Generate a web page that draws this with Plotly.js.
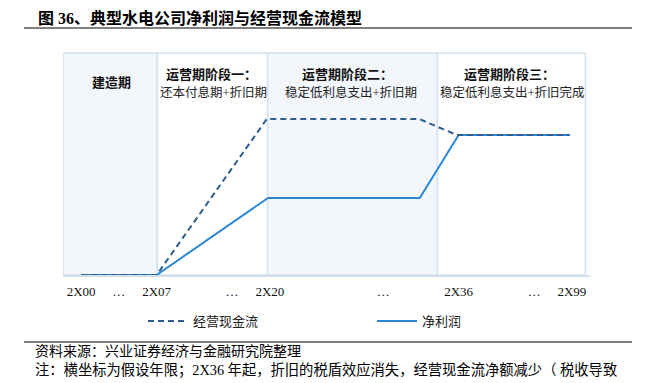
<!DOCTYPE html>
<html>
<head>
<meta charset="utf-8">
<script src="https://cdn.plot.ly/plotly-3.0.1.min.js"></script>
<style>html,body{margin:0;padding:0;background:#fff;}#chart{width:650px;height:383px;}</style>
</head>
<body>
<div id="chart"></div>
<script>
// ---- data ----
var tickPositions = [0, 1, 2, 4, 5, 8, 10, 12, 13];
var tickLabels = ["2X00", "…", "2X07", "…", "2X20", "…", "2X36", "…", "2X99"];
var cashFlowX = [0, 2, 4.92, 8.95, 9.95, 12.94];
var cashFlowY = [0, 0, 70.3, 70.3, 63.1, 63.1];
var netProfitX = [0, 2, 4.95, 8.97, 10, 12.94];
var netProfitY = [0, 0, 34.7, 34.7, 63.1, 63.1];
var seriesNames = ["经营现金流", "净利润"];
var phaseBounds = [-0.48, 2.02, 4.94, 9.44, 13.36];
var phaseTitles = ["建造期", "运营期阶段一：", "运营期阶段二：", "运营期阶段三："];
var phaseSubtitles = ["", "还本付息期+折旧期", "稳定低利息支出+折旧期", "稳定低利息支出+折旧完成"];
var chartTitle = "图 36、典型水电公司净利润与经营现金流模型";
var sourceText = "资料来源：兴业证券经济与金融研究院整理";
var noteText = "注：横坐标为假设年限；2X36 年起，折旧的税盾效应消失，经营现金流净额减少（ 税收导致";

// ---- layout helpers ----
var L = 63, R = 590, T = 53, B = 275;
function px(x) { return (x - L) / (R - L); }
function py(y) { return (B - y) / (B - T); }
var FONT = "Liberation Serif, 'Noto Sans CJK SC', serif";

var traces = [
  {x: netProfitX, y: netProfitY, name: seriesNames[1], type: "scatter", mode: "lines",
   line: {color: "#2B87D3", width: 2}, legendrank: 2, cliponaxis: false},
  {x: cashFlowX, y: cashFlowY, name: seriesNames[0], type: "scatter", mode: "lines",
   line: {color: "#2F5E8E", width: 2, dash: "6px,4px"}, legendrank: 1, cliponaxis: false}
];

var shapes = [];
var fills = ["#F3F7FC", "#FFFFFF", "#F3F7FC", "#FFFFFF"];
for (var i = 0; i < 4; i++) {
  shapes.push({type: "rect", xref: "x", yref: "paper", x0: phaseBounds[i], x1: phaseBounds[i + 1],
    y0: 0, y1: 1, fillcolor: fills[i], line: {color: "#D3E2F1", width: 1.5}, layer: "below"});
}
shapes.push({type: "line", xref: "paper", yref: "paper", x0: px(24), x1: px(632), y0: py(28), y1: py(28),
  line: {color: "#000", width: 1}});
shapes.push({type: "line", xref: "paper", yref: "paper", x0: px(24), x1: px(632), y0: py(342), y1: py(342),
  line: {color: "#000", width: 1}});

var annotations = [];
var titleX = [111, 211, 347, 509];
var subX = [0, 213, 351, 512];
for (var j = 0; j < 4; j++) {
  annotations.push({xref: "paper", yref: "paper", x: px(titleX[j]), y: py(j === 0 ? 83 : 74),
    text: "<b>" + phaseTitles[j] + "</b>", showarrow: false, xanchor: "center", yanchor: "middle",
    font: {family: FONT, size: 13, color: "#111"}});
  if (phaseSubtitles[j]) {
    annotations.push({xref: "paper", yref: "paper", x: px(subX[j]), y: py(92),
      text: phaseSubtitles[j], showarrow: false, xanchor: "center", yanchor: "middle",
      font: {family: FONT, size: 12.5, color: "#222"}});
  }
}
annotations.push({xref: "paper", yref: "paper", x: px(36), y: py(18), text: "<b>" + chartTitle + "</b>",
  showarrow: false, xanchor: "left", yanchor: "middle", font: {family: FONT, size: 16, color: "#000"}});
annotations.push({xref: "paper", yref: "paper", x: px(33), y: py(351.5), text: sourceText,
  showarrow: false, xanchor: "left", yanchor: "middle", font: {family: FONT, size: 14, color: "#000"}});
annotations.push({xref: "paper", yref: "paper", x: px(33), y: py(369.5), text: noteText,
  showarrow: false, xanchor: "left", yanchor: "middle", font: {family: FONT, size: 14.3, color: "#000"}});

var layout = {
  width: 650, height: 383,
  margin: {l: L, r: 650 - R, t: T, b: 383 - B, pad: 0},
  paper_bgcolor: "#fff", plot_bgcolor: "rgba(0,0,0,0)",
  showlegend: true,
  legend: {orientation: "h", xref: "container", yref: "container", x: 143 / 650, y: 1 - 306 / 383,
    xanchor: "left", yanchor: "top", itemwidth: 40, entrywidth: 174, entrywidthmode: "pixels",
    font: {family: FONT, size: 13, color: "#222"}, bgcolor: "rgba(0,0,0,0)"},
  xaxis: {range: [-0.48, 13.48], tickvals: tickPositions, ticktext: tickLabels,
    showgrid: false, zeroline: false, showline: true, linecolor: "#D5DFEA", linewidth: 2,
    ticks: "outside", ticklen: 3, tickcolor: "rgba(0,0,0,0)",
    tickfont: {family: FONT, size: 13, color: "#111"}, fixedrange: true},
  yaxis: {range: [0, 100], showgrid: false, zeroline: false, showline: false, showticklabels: false,
    ticks: "", fixedrange: true},
  shapes: shapes,
  annotations: annotations
};

Plotly.newPlot("chart", traces, layout, {displayModeBar: false, staticPlot: true});
</script>
</body>
</html>
